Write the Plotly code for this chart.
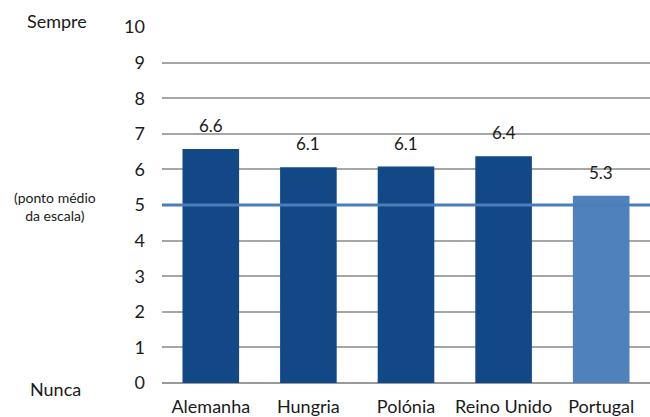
import plotly.graph_objects as go

# Average score per country on a 0 (Nunca) .. 10 (Sempre) scale
countries = ["Alemanha", "Hungria", "Polónia", "Reino Unido", "Portugal"]
scores = [6.57, 6.06, 6.08, 6.37, 5.26]
bar_colors = ["#124886", "#124886", "#124886", "#124886", "#4f81bd"]
y_ticks = list(range(0, 11))
midpoint = 5

W, H = 650, 417
ML, MR, MT, MB = 162, 0, 27, 34
FONT = "Lato, Calibri, Arial, sans-serif"

fig = go.Figure()
fig.add_trace(go.Bar(
    x=countries, y=scores,
    marker=dict(color=bar_colors, line=dict(width=0)),
    hoverinfo="x+y",
))

# value labels above each bar
for c, v in zip(countries, scores):
    fig.add_annotation(
        x=c, y=v, xref="x", yref="y",
        text=f"{v:.1f}", showarrow=False,
        yanchor="bottom", yshift=11,
        font=dict(family=FONT, size=17, color="#1a1a1a"),
    )

# scale midpoint reference line
fig.add_shape(
    type="line", xref="paper", yref="y",
    x0=0, x1=1, y0=midpoint, y1=midpoint,
    line=dict(color="#4a7ebb", width=3), layer="above",
)

plot_w = W - ML - MR


def px_to_paper(px):
    return (px - ML) / plot_w


side_font = dict(family=FONT, size=18, color="#1a1a1a")
fig.add_annotation(x=px_to_paper(57), y=10, xref="paper", yref="y",
                   xanchor="center", yshift=6, text="Sempre",
                   showarrow=False, font=side_font)
fig.add_annotation(x=px_to_paper(55), y=0, xref="paper", yref="y",
                   xanchor="center", yshift=-6, text="Nunca",
                   showarrow=False, font=side_font)
fig.add_annotation(x=px_to_paper(55), y=midpoint, xref="paper", yref="y",
                   xanchor="center", yshift=-1,
                   text="(ponto médio<br>da escala)", showarrow=False,
                   font=dict(family=FONT, size=14, color="#1a1a1a"))

fig.update_layout(
    width=W, height=H,
    margin=dict(l=ML, r=MR, t=MT, b=MB, pad=0),
    paper_bgcolor="white", plot_bgcolor="white",
    bargap=0.42,
    showlegend=False,
    font=dict(family=FONT, size=18, color="#1a1a1a"),
    xaxis=dict(
        showgrid=False, showline=False, zeroline=False, ticks="",
        tickfont=dict(family=FONT, size=18, color="#1a1a1a"),
        ticklabelstandoff=11,
    ),
    yaxis=dict(
        range=[0, 10], tickvals=y_ticks, ticks="",
        showgrid=True, gridcolor="#a6a6a6", gridwidth=2,
        zeroline=True, zerolinecolor="#999999", zerolinewidth=2,
        showline=False,
        tickfont=dict(family=FONT, size=18, color="#1a1a1a"),
        ticklabelstandoff=16,
    ),
)

fig.write_html("out.html")
